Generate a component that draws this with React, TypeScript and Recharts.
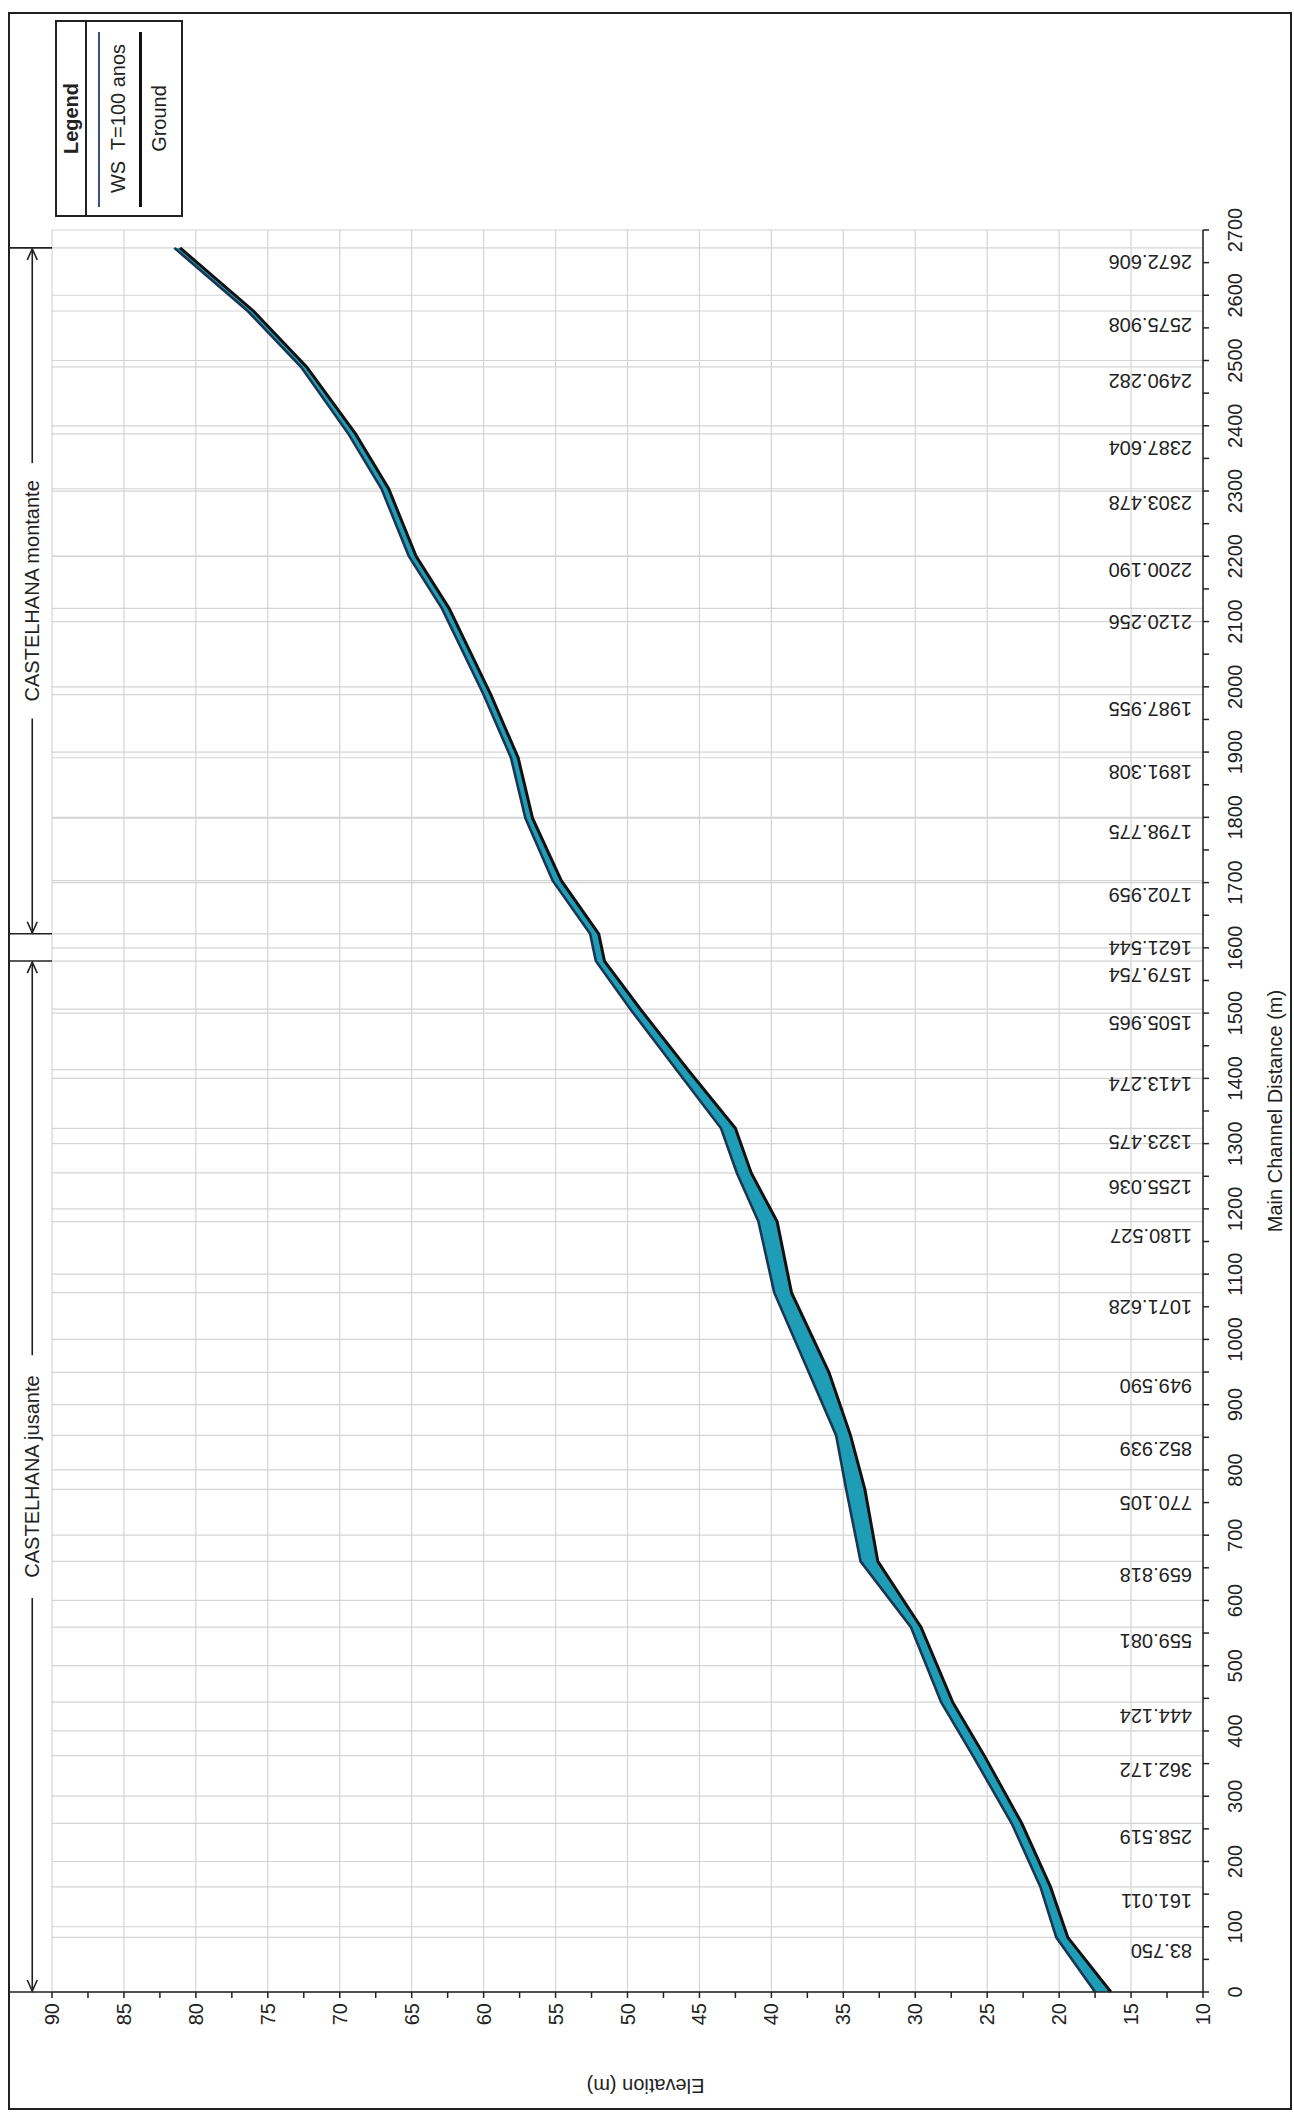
import React from "react";
import {
  ComposedChart,
  Area,
  Line,
  XAxis,
  YAxis,
  CartesianGrid,
  ReferenceLine,
  ReferenceArea,
  Legend,
  Label,
} from "recharts";

// profile drawn upright, then the whole sheet is turned a quarter turn (as in the scan)
const W = 2112;
const H = 1294;
const FONT = "Arial, 'Liberation Sans', Helvetica, sans-serif";
const INK = "#222";

const stations = [
  0, 83.75, 161.011, 258.519, 362.172, 444.124, 559.081, 659.818, 770.105, 852.939,
  949.59, 1071.628, 1180.527, 1255.036, 1323.475, 1413.274, 1505.965, 1579.754, 1621.544, 1702.959,
  1798.775, 1891.308, 1987.955, 2120.256, 2200.19, 2303.478, 2387.604, 2490.282, 2575.908, 2672.606,
];
const stationLabels = [
  "", "83.750", "161.011", "258.519", "362.172", "444.124", "559.081", "659.818", "770.105", "852.939",
  "949.590", "1071.628", "1180.527", "1255.036", "1323.475", "1413.274", "1505.965", "1579.754", "1621.544", "1702.959",
  "1798.775", "1891.308", "1987.955", "2120.256", "2200.190", "2303.478", "2387.604", "2490.282", "2575.908", "2672.606",
];
const wsElev = [
  17.5, 20.2, 21.3, 23.3, 26.0, 28.2, 30.3, 33.8, 34.8, 35.5,
  37.4, 39.8, 40.9, 42.4, 43.5, 46.6, 49.8, 52.2, 52.6, 55.2,
  57.1, 58.1, 60.0, 62.9, 65.2, 67.1, 69.4, 72.7, 76.4, 81.5,
];
const groundElev = [
  16.4, 19.4, 20.6, 22.6, 25.2, 27.4, 29.6, 32.6, 33.5, 34.5,
  36.0, 38.6, 39.6, 41.4, 42.5, 45.8, 49.1, 51.6, 52.0, 54.6,
  56.6, 57.6, 59.5, 62.4, 64.7, 66.6, 68.9, 72.3, 76.0, 81.1,
];

const distTicks = Array.from({ length: 55 }, (_, i) => i * 50);
const distGrid = Array.from({ length: 28 }, (_, i) => i * 100);
const elevTicks = Array.from({ length: 33 }, (_, i) => 10 + i * 2.5);
const elevGrid = [10, 15, 20, 25, 30, 35, 40, 45, 50, 55, 60, 65, 70, 75, 80, 85, 90];

const reachNames = ["CASTELHANA jusante", "CASTELHANA montante"];
const reachFrom = [0, 1621.544];
const reachTo = [1579.754, 2672.606];

const legendNames = ["WS  T=100 anos", "Ground"];

const rows = stations.map((d, i) => ({
  d,
  ws: wsElev[i],
  ground: groundElev[i],
  band: [groundElev[i], wsElev[i]],
}));

const DistTick = (p: any) => {
  const v = p.payload.value;
  if (v % 100 !== 0) return <g />;
  return (
    <text x={p.x} y={p.y} dy={31} textAnchor="middle" fontSize={20} fill={INK} fontFamily={FONT}>
      {v}
    </text>
  );
};

const ElevTick = (p: any) => {
  const v = p.payload.value;
  if (v % 5 !== 0) return <g />;
  return (
    <text x={p.x - 3} y={p.y} dy={7} textAnchor="end" fontSize={20} fill={INK} fontFamily={FONT}>
      {v}
    </text>
  );
};

const stationLabel = (text: string) => (p: any) => {
  const vb = p.viewBox;
  if (!vb || !text) return null;
  const x = vb.x - 7;
  const y = vb.y + vb.height - 11;
  return (
    <text x={x} y={y} transform={`rotate(-90 ${x} ${y})`} fontSize={20} fill={INK} fontFamily={FONT}>
      {text}
    </text>
  );
};

const ReachShape = (p: any) => {
  const { x, y, width, height, name } = p;
  const mid = y + height * 0.55;
  const cx = x + width / 2;
  const gap = name.length * 6.3 + 8;
  const r = x + width;
  return (
    <g stroke={INK} strokeWidth={1.6} fill="none">
      <line x1={x} y1={y} x2={x} y2={y + height} />
      <line x1={r} y1={y} x2={r} y2={y + height} />
      <line x1={x + 1} y1={mid} x2={cx - gap} y2={mid} />
      <line x1={cx + gap} y1={mid} x2={r - 1} y2={mid} />
      <path d={`M${x + 12},${mid - 5} L${x + 1},${mid} L${x + 12},${mid + 5}`} />
      <path d={`M${r - 12},${mid - 5} L${r - 1},${mid} L${r - 12},${mid + 5}`} />
      <text x={cx} y={mid} dy={7} textAnchor="middle" stroke="none" fill={INK} fontSize={20} fontFamily={FONT}>
        {name}
      </text>
    </g>
  );
};

const LegendBox = () => (
  <div
    style={{
      position: "relative",
      width: 197,
      height: 128,
      border: `2px solid ${INK}`,
      boxSizing: "border-box",
      background: "#fff",
      fontFamily: FONT,
      color: INK,
      fontSize: 20,
    }}
  >
    <div style={{ height: 28, borderBottom: `2px solid ${INK}`, textAlign: "center", fontWeight: "bold", lineHeight: "28px" }}>
      Legend
    </div>
    <div style={{ position: "absolute", left: 8, top: 41, width: 175, height: 2, background: "#3d4f7c" }} />
    <div style={{ position: "absolute", left: 0, top: 49, width: 193, textAlign: "center", lineHeight: "24px", whiteSpace: "pre" }}>
      {legendNames[0]}
    </div>
    <div style={{ position: "absolute", left: 8, top: 82, width: 175, height: 3, background: "#111" }} />
    <div style={{ position: "absolute", left: 0, top: 90, width: 193, textAlign: "center", lineHeight: "24px" }}>
      {legendNames[1]}
    </div>
  </div>
);

export default function App() {
  return (
    <div style={{ position: "absolute", left: 0, top: 0, width: 1294, height: 2112, overflow: "hidden", background: "#fff" }}>
      <div
        style={{
          position: "absolute",
          left: 0,
          top: 0,
          width: W,
          height: H,
          transformOrigin: "0 0",
          transform: `translate(0px, ${W}px) rotate(-90deg)`,
        }}
      >
        <ComposedChart
          width={W}
          height={H}
          data={rows}
          margin={{ top: 52, right: 230, left: 20, bottom: 5 }}
          style={{ fontFamily: FONT }}
        >
          <CartesianGrid
            stroke="#d4d4d4"
            strokeWidth={1.2}
            verticalValues={[...distGrid, ...stations]}
            horizontalValues={elevGrid}
          />
          <XAxis
            type="number"
            dataKey="d"
            domain={[0, 2700]}
            ticks={distTicks}
            interval={0}
            tick={<DistTick />}
            tickSize={6}
            height={86}
            stroke={INK}
            strokeWidth={1.5}
          >
            <Label
              content={(p: any) => (
                <text
                  x={p.viewBox.x + p.viewBox.width / 2}
                  y={p.viewBox.y + 79}
                  textAnchor="middle"
                  fontSize={20}
                  fill={INK}
                  fontFamily={FONT}
                >
                  Main Channel Distance (m)
                </text>
              )}
            />
          </XAxis>
          <YAxis
            type="number"
            domain={[10, 90]}
            ticks={elevTicks}
            interval={0}
            tick={<ElevTick />}
            tickSize={6}
            width={100}
            stroke={INK}
            strokeWidth={1.5}
          >
            <Label
              content={(p: any) => {
                const x = p.viewBox.x + 6;
                const y = p.viewBox.y + p.viewBox.height / 2 + 18;
                return (
                  <text
                    x={x}
                    y={y}
                    dy={7}
                    transform={`rotate(-90 ${x} ${y})`}
                    textAnchor="middle"
                    fontSize={20}
                    fill={INK}
                    fontFamily={FONT}
                  >
                    Elevation (m)
                  </text>
                );
              }}
            />
          </YAxis>
          <Area
            dataKey="band"
            type="linear"
            fill="#1f9db6"
            fillOpacity={1}
            stroke="none"
            isAnimationActive={false}
          />
          <Line dataKey="ws" name={legendNames[0]} type="linear" stroke="#1c3552" strokeWidth={2.6} dot={false} isAnimationActive={false} />
          <Line dataKey="ground" name={legendNames[1]} type="linear" stroke="#111" strokeWidth={3} dot={false} isAnimationActive={false} />
          {stations.map((s, i) => (
            <ReferenceLine key={`st${i}`} x={s} stroke="none" label={stationLabel(stationLabels[i])} />
          ))}
          {reachNames.map((name, i) => (
            <ReferenceArea
              key={name}
              x1={reachFrom[i]}
              x2={reachTo[i]}
              y1={90}
              y2={93.05}
              ifOverflow="visible"
              shape={(p: any) => <ReachShape {...p} name={name} />}
            />
          ))}
          <Legend
            layout="vertical"
            align="center"
            verticalAlign="middle"
            wrapperStyle={{ left: 1895, top: 55, width: 197 }}
            content={LegendBox}
          />
        </ComposedChart>
        <div
          style={{
            position: "absolute",
            left: 2,
            top: 8,
            width: 2098,
            height: 1284,
            border: `2.5px solid ${INK}`,
            boxSizing: "border-box",
            pointerEvents: "none",
          }}
        />
      </div>
    </div>
  );
}
